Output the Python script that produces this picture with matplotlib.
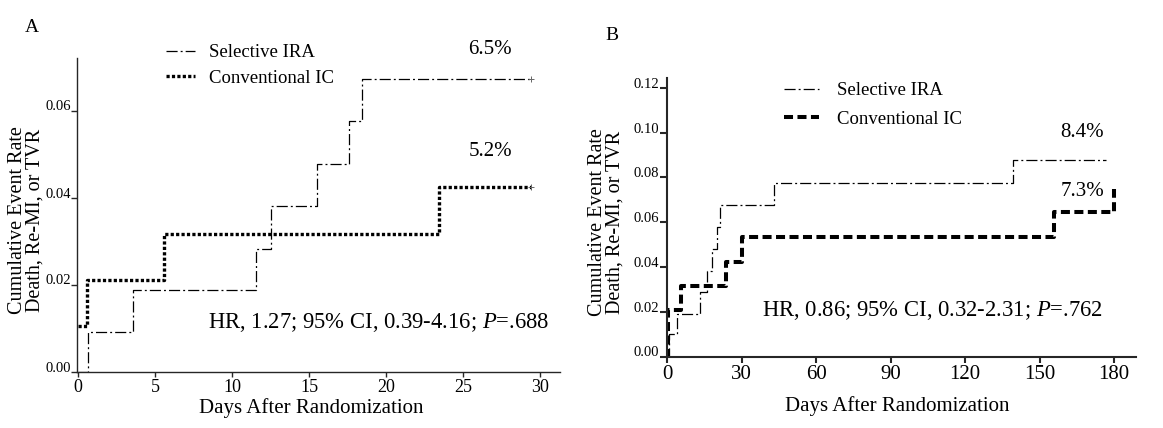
import matplotlib
matplotlib.use('Agg')
import matplotlib.pyplot as plt

W, H = 1163, 428
plt.rcParams['font.family'] = ['Liberation Serif', 'DejaVu Serif']
plt.rcParams['mathtext.fontset'] = 'custom'
plt.rcParams['mathtext.rm'] = 'Liberation Serif'
plt.rcParams['mathtext.it'] = 'Liberation Serif:italic'
plt.rcParams['lines.scale_dashes'] = False

# ---------------- data ----------------
series_names = ['Selective IRA', 'Conventional IC']

a_sel_days = [0, 0.65, 3.57, 11.55, 12.52, 15.49, 17.57, 18.45, 29.4]
a_sel_rate = [0, 0.0091, 0.0187, 0.0282, 0.0380, 0.0477, 0.0575, 0.0673, 0.0673]
a_con_days = [0, 0.55, 5.57, 23.42, 29.4]
a_con_rate = [0.0104, 0.0210, 0.0317, 0.0424, 0.0424]

b_sel_days = [0, 1.0, 3.9, 13.1, 16.2, 18.1, 20.2, 21.4, 43.2, 139.4, 176.6]
b_sel_rate = [0, 0.0100, 0.0188, 0.0286, 0.0383, 0.0480, 0.0578, 0.0675, 0.0776, 0.0877, 0.0877]
b_con_days = [0, 0.3, 0.6, 5.8, 23.8, 30.0, 155.8, 180.0]
b_con_rate = [0, 0.0105, 0.0208, 0.0316, 0.0424, 0.0535, 0.0645, 0.0750]

a_xticks = [0, 5, 10, 15, 20, 25, 30]
a_yticks = [0.00, 0.02, 0.04, 0.06]
b_xticks = [0, 30, 60, 90, 120, 150, 180]
b_yticks = [0.00, 0.02, 0.04, 0.06, 0.08, 0.10, 0.12]

a_final = ['6.5%', '5.2%']
b_final = ['8.4%', '7.3%']
a_stats = 'HR, 1.27; 95% CI, 0.39-4.16; $\\mathit{P}$=.688'
b_stats = 'HR, 0.86; 95% CI, 0.32-2.31; $\\mathit{P}$=.762'
xlabel = 'Days After Randomization'
ylabel = 'Cumulative Event Rate\nDeath, Re-MI, or TVR'

# ---------------- figure ----------------
fig = plt.figure(figsize=(W / 100, H / 100), dpi=100)


def px_axes(x0, x1, ytop, ybot):
    return fig.add_axes([x0 / W, 1 - ybot / H, (x1 - x0) / W, (ybot - ytop) / H])


def ftext(x, y, s, **kw):
    fig.text(x / W, 1 - y / H, s, **kw)


axA = px_axes(77.3, 560, 58.3, 371.5)
axA.set_xlim(-0.065, 31.3)
axA.set_ylim(0, 0.072)

axB = px_axes(666.5, 1136, 78.3, 356.5)
axB.set_xlim(-0.2, 188.8)
axB.set_ylim(0, 0.1242)

sel_style = dict(color='black', lw=0.9, linestyle=(0, (8, 2.2, 1.4, 2.2)),
                 drawstyle='steps-post')
conA_style = dict(color='black', lw=2.4, linestyle=(0, (2.3, 1.6)),
                  drawstyle='steps-post', dash_capstyle='butt')
conB_style = dict(color='black', lw=2.9, linestyle=(0, (6.5, 3.2)),
                  drawstyle='steps-post', dash_capstyle='butt')

lA1, = axA.plot(a_sel_days, a_sel_rate, **sel_style)
lA2, = axA.plot(a_con_days, a_con_rate, **conA_style)
axA.plot(a_sel_days[-1], a_sel_rate[-1], marker='+', ms=5, mew=0.7, color='0.4')
axA.plot(a_con_days[-1], a_con_rate[-1], marker='+', ms=5, mew=0.7, color='0.4')

lB1, = axB.plot(b_sel_days, b_sel_rate, **sel_style)
lB2, = axB.plot(b_con_days, b_con_rate, **conB_style)

for ax, xt, yt, spw, ylen, xlen, xfs in [
        (axA, a_xticks, a_yticks, 1.0, 4.3, 3.6, 13),
        (axB, b_xticks, b_yticks, 1.5, 5.0, 4.3, 15)]:
    for s in ['top', 'right']:
        ax.spines[s].set_visible(False)
    for s in ['left', 'bottom']:
        ax.spines[s].set_linewidth(spw)
        ax.spines[s].set_color('0.15')
    ax.set_xticks(xt)
    ax.set_xticklabels([str(v) for v in xt])
    ax.set_yticks(yt)
    ax.set_yticklabels(['%.2f' % v for v in yt])
    ax.tick_params(axis='x', direction='out', length=xlen, width=spw,
                   labelsize=xfs, pad=2, color='0.15')
    ax.tick_params(axis='y', direction='out', length=ylen, width=spw,
                   labelsize=10.5, pad=0.5, color='0.15')
    plt.setp(ax.get_yticklabels(), va='baseline')
    ax.patch.set_alpha(0)

# legends
axA.legend([lA1, lA2], series_names, loc='upper left',
           bbox_to_anchor=(166 / W, 1 - 44 / H), bbox_transform=fig.transFigure,
           frameon=False, fontsize=13.5, handlelength=1.55, handletextpad=0.75,
           labelspacing=0.45, borderpad=0, borderaxespad=0)
axB.legend([lB1, lB2], series_names, loc='upper left',
           bbox_to_anchor=(784 / W, 1 - 82 / H), bbox_transform=fig.transFigure,
           frameon=False, fontsize=13.5, handlelength=1.87, handletextpad=0.94,
           labelspacing=0.6, borderpad=0, borderaxespad=0)

# annotations
ftext(32, 27.5, 'A', fontsize=14, ha='center', va='center')
ftext(612, 35, 'B', fontsize=14, ha='center', va='center')

ftext(490, 49, a_final[0], fontsize=15, ha='center', va='center')
ftext(490, 151, a_final[1], fontsize=15, ha='center', va='center')
ftext(1082, 132.5, b_final[0], fontsize=15, ha='center', va='center')
ftext(1083, 191.7, b_final[1], fontsize=15, ha='center', va='center')

ftext(208, 328, a_stats, fontsize=16.3, ha='left', va='baseline')
ftext(762, 316, b_stats, fontsize=16.3, ha='left', va='baseline')

ftext(311, 413, xlabel, fontsize=15, ha='center', va='baseline')
ftext(897, 411, xlabel, fontsize=15, ha='center', va='baseline')

ftext(26, 220, ylabel, fontsize=14.5, ha='center', va='center', rotation=90,
      linespacing=0.9, multialignment='center')
ftext(606, 222, ylabel, fontsize=14.5, ha='center', va='center', rotation=90,
      linespacing=0.9, multialignment='center')

fig.savefig('out.png', dpi=100)
